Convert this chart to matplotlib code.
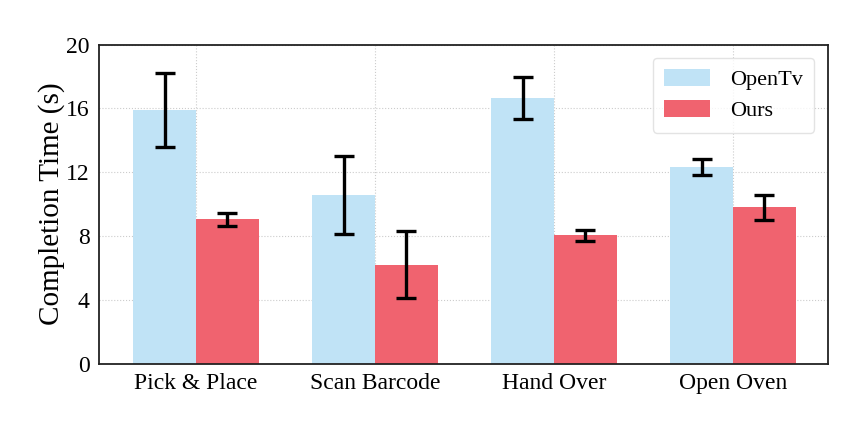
import matplotlib
matplotlib.use("Agg")

import matplotlib.pyplot as plt
import numpy as np

tasks = ["Pick & Place", "Scan Barcode", "Hand Over", "Open Oven"]
opentv_mean = [15.9, 10.55, 16.65, 12.3]
opentv_err = [2.3, 2.45, 1.3, 0.5]
ours_mean = [9.05, 6.2, 8.05, 9.8]
ours_err = [0.4, 2.1, 0.35, 0.8]

plt.rcParams["font.family"] = ["Liberation Serif", "DejaVu Serif"]

fig, ax = plt.subplots(figsize=(8.65, 4.33), dpi=100)
fig.subplots_adjust(left=0.115, right=0.957, top=0.897, bottom=0.16)

x = np.arange(len(tasks))
w = 0.35
err_kw = dict(elinewidth=2.4, capthick=2.4, ecolor="black")

ax.bar(x - w / 2, opentv_mean, w, yerr=opentv_err, capsize=7,
       color="#c0e3f6", label="OpenTv", error_kw=err_kw, zorder=2)
ax.bar(x + w / 2, ours_mean, w, yerr=ours_err, capsize=7,
       color="#f0636f", label="Ours", error_kw=err_kw, zorder=2)

ax.set_xlim(-0.54, 3.53)
ax.set_ylim(0, 20)
ax.set_yticks([0, 4, 8, 12, 16, 20])
ax.set_xticks(x)
ax.set_xticklabels(tasks)
ax.tick_params(axis="both", labelsize=17, length=0, pad=7)
ax.set_ylabel("Completion Time (s)", fontsize=21, labelpad=1)

ax.grid(True, linestyle=":", color="#cccccc", linewidth=0.8, zorder=0)
ax.set_axisbelow(True)
for s in ax.spines.values():
    s.set_color("#222222")
    s.set_linewidth(1.3)

leg = ax.legend(loc="upper right", fontsize=16, frameon=True,
                handlelength=2.1, handleheight=0.8, borderpad=0.5,
                labelspacing=0.45, handletextpad=0.9, fancybox=True,
                borderaxespad=0.6)
leg.get_frame().set_edgecolor("#dddddd")

plt.savefig("out.png", dpi=100)
plt.close()
